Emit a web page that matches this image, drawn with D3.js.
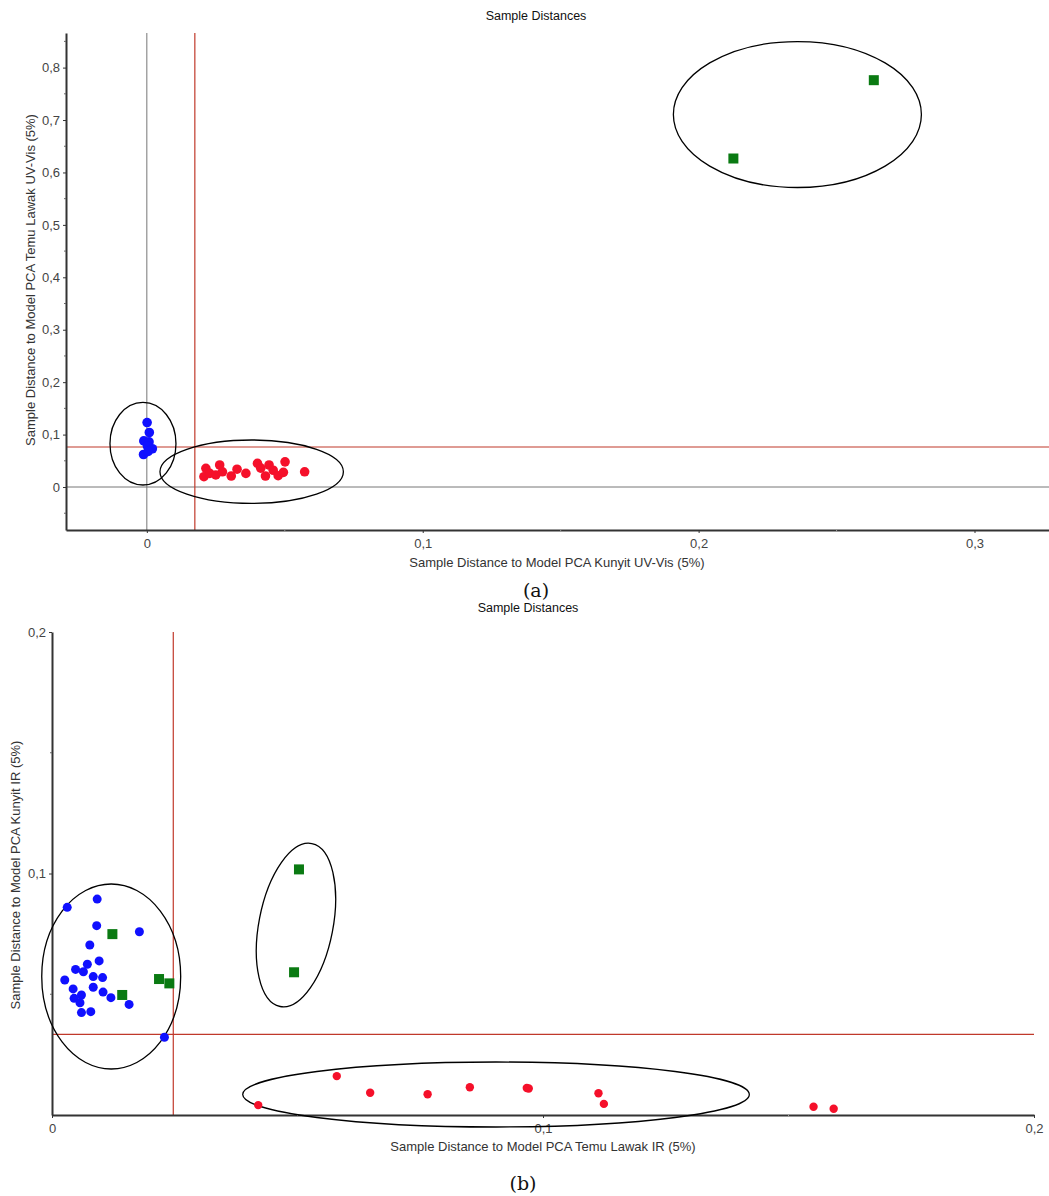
<!DOCTYPE html>
<html><head><meta charset="utf-8">
<script src="https://cdn.jsdelivr.net/npm/d3@7"></script>
<style>body{margin:0;background:#fff}svg{display:block}text{font-family:"Liberation Sans",Arial,sans-serif}text.cap{font-family:"DejaVu Serif","Liberation Serif",serif}</style>
</head><body>
<svg id="c" width="1049" height="1196"></svg>
<script>
// ---------- Chart (a) data ----------
const titleA = "Sample Distances";
const xLabelA = "Sample Distance to Model PCA Kunyit UV-Vis (5%)";
const yLabelA = "Sample Distance to Model PCA Temu Lawak UV-Vis (5%)";
const xTicksA = [0, 0.1, 0.2, 0.3];
const xMinorA = [0.05, 0.15, 0.25];
const yTicksA = [0, 0.1, 0.2, 0.3, 0.4, 0.5, 0.6, 0.7, 0.8];
const yMinorA = [-0.05, 0.05, 0.15, 0.25, 0.35, 0.45, 0.55, 0.65, 0.75, 0.85];
const limitXA = 0.0174, limitYA = 0.0763;
const blueA = [[0.0001,0.123],[0.0009,0.104],[-0.0011,0.088],[0.0008,0.086],[0.0002,0.078],[0.0020,0.073],[-0.0012,0.062],[0.0005,0.068]];
const redA = [[0.0207,0.0197],[0.0214,0.0356],[0.0228,0.026],[0.025,0.023],[0.0264,0.042],[0.0274,0.029],[0.0306,0.021],[0.0327,0.034],[0.0359,0.026],[0.0401,0.045],[0.0413,0.036],[0.043,0.021],[0.0443,0.042],[0.0458,0.032],[0.0476,0.0216],[0.0495,0.028],[0.0501,0.048],[0.0572,0.029]];
const greenA = [[0.2635,0.776],[0.2126,0.6266]];
const ellipsesA = [{cx:0.2358,cy:0.7105,rx:0.04495,ry:0.1392,rot:0},{cx:-0.0014,cy:0.0826,rx:0.01196,ry:0.0788,rot:0},{cx:0.0380,cy:0.0292,rx:0.03324,ry:0.0605,rot:0}];

// ---------- Chart (b) data ----------
const titleB = "Sample Distances";
const xLabelB = "Sample Distance to Model PCA Temu Lawak IR (5%)";
const yLabelB = "Sample Distance to Model PCA Kunyit IR (5%)";
const xTicksB = [0, 0.1, 0.2];
const xMinorB = [0.05, 0.15];
const yTicksB = [0.1, 0.2];
const yMinorB = [0.05, 0.15];
const limitXB = 0.0247, limitYB = 0.0334;
const blueB = [[0.0031,0.0860],[0.0092,0.0894],[0.0091,0.0784],[0.0178,0.0759],[0.0077,0.0704],[0.0096,0.0638],[0.0072,0.0624],[0.0048,0.0603],[0.0064,0.0593],[0.0026,0.0559],[0.0084,0.0573],[0.0103,0.0569],[0.0043,0.0522],[0.0060,0.0497],[0.0084,0.0529],[0.0104,0.0509],[0.0120,0.0486],[0.0045,0.0483],[0.0057,0.0465],[0.0060,0.0424],[0.0079,0.0428],[0.0157,0.0458],[0.0229,0.0322]];
const greenB = [[0.0123,0.0749],[0.0143,0.0497],[0.0218,0.0563],[0.0239,0.0545],[0.0503,0.1017],[0.0493,0.0591]];
const redB = [[0.0420,0.0041],[0.0580,0.0161],[0.0648,0.0092],[0.0765,0.0086],[0.0851,0.0115],[0.0967,0.0112],[0.0971,0.0110],[0.1113,0.0090],[0.1124,0.0046],[0.1551,0.0034],[0.1592,0.0026]];
const ellipsesB = [{cx:0.01206,cy:0.05735,rx:0.01415,ry:0.0383,rot:0},{cx:0.04969,cy:0.07867,rx:0.00754,ry:0.03437,rot:11},{cx:0.09043,cy:0.00849,rx:0.05159,ry:0.01346,rot:0}];

const fmt = v => v === 0 ? "0" : d3.format(".1f")(v).replace(".", ",");
const svg = d3.select("#c");
const BLUE = "#1010ff", RED = "#f5102a", GREEN = "#0a7a12", LIM = "#c0392b", AX = "#333";

function drawChart(o) {
  const g = svg.append("g");
  const x = o.x, y = o.y;
  const [x0, x1] = x.range(), [y0, y1] = y.range();
  if (o.zero) {
    g.append("line").attr("x1", x(0)).attr("x2", x(0)).attr("y1", y1).attr("y2", y0).attr("stroke", "#777").attr("stroke-width", 1);
    g.append("line").attr("x1", x0).attr("x2", x1).attr("y1", y(0)).attr("y2", y(0)).attr("stroke", "#777").attr("stroke-width", 1);
  }
  g.append("line").attr("x1", x(o.limX)).attr("x2", x(o.limX)).attr("y1", y1).attr("y2", y0).attr("stroke", LIM).attr("stroke-width", 1.2);
  g.append("line").attr("x1", x0).attr("x2", x1).attr("y1", y(o.limY)).attr("y2", y(o.limY)).attr("stroke", LIM).attr("stroke-width", 1.2);
  const xa = g.append("g").attr("transform", `translate(0,${y0})`)
    .call(d3.axisBottom(x).tickValues(o.xTicks).tickFormat(fmt).tickSize(3).tickSizeOuter(0));
  xa.append("g").selectAll("line").data(o.xMinor).join("line")
    .attr("x1", d => x(d)).attr("x2", d => x(d)).attr("y1", 0).attr("y2", 2).attr("stroke", "#999");
  const ya = g.append("g").attr("transform", `translate(${x0},0)`)
    .call(d3.axisLeft(y).tickValues(o.yTicks).tickFormat(fmt).tickSize(3).tickSizeOuter(0));
  ya.append("g").selectAll("line").data(o.yMinor).join("line")
    .attr("x1", 0).attr("x2", -2).attr("y1", d => y(d)).attr("y2", d => y(d)).attr("stroke", "#666");
  [xa, ya].forEach(a => {
    a.select(".domain").attr("stroke", AX).attr("stroke-width", 2);
    a.selectAll(".tick line").attr("stroke", AX);
    a.selectAll(".tick text").attr("fill", "#444").style("font-size", "13px");
  });
  xa.selectAll(".tick text").attr("dy", "0.95em");
  g.selectAll("ellipse.ann").data(o.ellipses).join("ellipse").attr("class", "ann")
    .attr("cx", d => x(d.cx)).attr("cy", d => y(d.cy))
    .attr("rx", d => Math.abs(x(d.rx) - x(0))).attr("ry", d => Math.abs(y(0) - y(d.ry)))
    .attr("transform", d => `rotate(${d.rot},${x(d.cx)},${y(d.cy)})`)
    .attr("fill", "none").attr("stroke", "#000").attr("stroke-width", 1.3);
  g.append("g").selectAll("circle").data(o.blue).join("circle")
    .attr("cx", d => x(d[0])).attr("cy", d => y(d[1])).attr("r", o.dotR).attr("fill", BLUE);
  g.append("g").selectAll("circle").data(o.red).join("circle")
    .attr("cx", d => x(d[0])).attr("cy", d => y(d[1])).attr("r", o.redR).attr("fill", RED);
  g.append("g").selectAll("rect").data(o.green).join("rect")
    .attr("x", d => x(d[0]) - 5).attr("y", d => y(d[1]) - 5).attr("width", 10).attr("height", 10).attr("fill", GREEN);
  svg.append("text").attr("x", o.title[1]).attr("y", o.title[2]).attr("text-anchor", "middle")
    .style("font-size", "12.5px").attr("fill", "#111").text(o.title[0]);
  svg.append("text").attr("x", o.xl[1]).attr("y", o.xl[2]).attr("text-anchor", "middle")
    .style("font-size", "13px").attr("fill", "#333").text(o.xl[0]);
  svg.append("text").attr("transform", `translate(${o.yl[1]},${o.yl[2]}) rotate(-90)`).attr("text-anchor", "middle")
    .style("font-size", "13px").attr("fill", "#333").text(o.yl[0]);
  svg.append("text").attr("class", "cap").attr("x", o.cap[1]).attr("y", o.cap[2]).attr("text-anchor", "middle")
    .style("font-size", "19px").attr("fill", "#111").text(o.cap[0]);
}

drawChart({
  x: d3.scaleLinear().domain([-0.0293, 0.327]).range([66, 1049]),
  y: d3.scaleLinear().domain([-0.082, 0.866]).range([530, 33]),
  zero: true, limX: limitXA, limY: limitYA,
  xTicks: xTicksA, xMinor: xMinorA, yTicks: yTicksA, yMinor: yMinorA,
  ellipses: ellipsesA, blue: blueA, red: redA, green: greenA, dotR: 4.8, redR: 4.8,
  title: [titleA, 536, 20], xl: [xLabelA, 557, 567], yl: [yLabelA, 35, 280], cap: ["(a)", 536, 597]
});
drawChart({
  x: d3.scaleLinear().domain([0, 0.2]).range([52, 1034]),
  y: d3.scaleLinear().domain([0, 0.2]).range([1115, 632]),
  zero: false, limX: limitXB, limY: limitYB,
  xTicks: xTicksB, xMinor: xMinorB, yTicks: yTicksB, yMinor: yMinorB,
  ellipses: ellipsesB, blue: blueB, red: redB, green: greenB, dotR: 4.5, redR: 4.2,
  title: [titleB, 528, 612], xl: [xLabelB, 543, 1151], yl: [yLabelB, 20, 875], cap: ["(b)", 523, 1190]
});
</script>
</body></html>
